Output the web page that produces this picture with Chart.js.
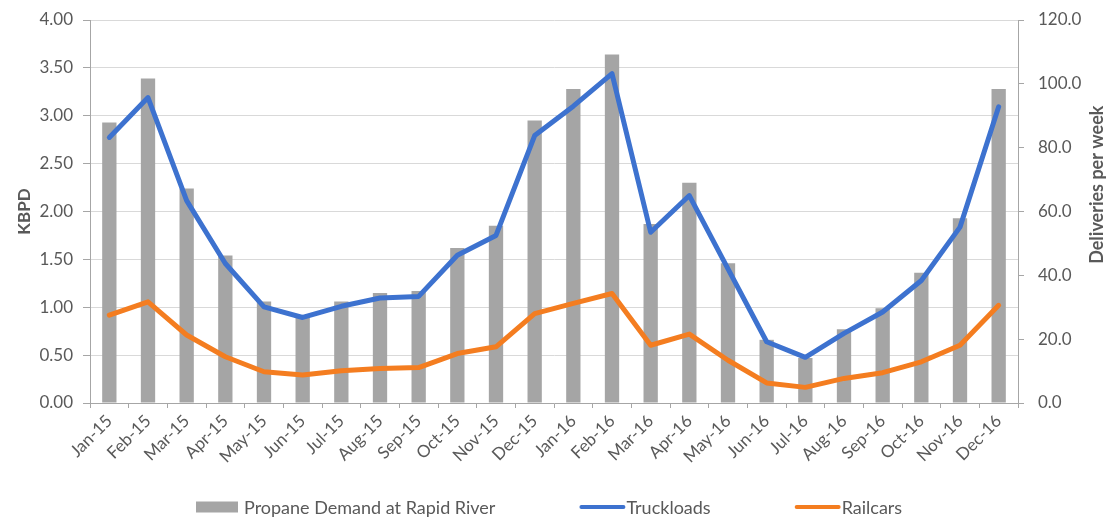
<!DOCTYPE html>
<html>
<head>
<meta charset="utf-8">
<script src="https://cdn.jsdelivr.net/npm/chart.js@4.4.1/dist/chart.umd.min.js"></script>
<style>
  html, body { margin: 0; padding: 0; background: #ffffff; overflow: hidden; }
  #wrap { width: 1109px; height: 519px; position: relative; }
</style>
</head>
<body>
<div id="wrap"><canvas id="chart" width="1109" height="519"></canvas></div>
<script>
// Monthly categories
const months = [
  'Jan-15','Feb-15','Mar-15','Apr-15','May-15','Jun-15','Jul-15','Aug-15','Sep-15','Oct-15','Nov-15','Dec-15',
  'Jan-16','Feb-16','Mar-16','Apr-16','May-16','Jun-16','Jul-16','Aug-16','Sep-16','Oct-16','Nov-16','Dec-16'
];

// Propane demand (KBPD, left axis)
const demandKbpd = [
  2.93, 3.39, 2.24, 1.54, 1.06, 0.90, 1.06, 1.15, 1.17, 1.62, 1.85, 2.95,
  3.28, 3.64, 1.87, 2.30, 1.46, 0.66, 0.47, 0.77, 0.99, 1.36, 1.93, 3.28
];

// Deliveries per week (right axis)
const truckloads = [
  83.2, 95.7, 63.4, 43.7, 30.1, 26.8, 30.3, 32.9, 33.4, 46.3, 52.5, 83.8,
  93.0, 103.2, 53.5, 65.0, 42.0, 19.2, 14.3, 21.8, 28.5, 38.4, 55.1, 92.8
];
const railcars = [
  27.5, 31.7, 21.3, 14.5, 9.8, 8.8, 10.1, 10.8, 11.1, 15.5, 17.6, 28.0,
  31.2, 34.3, 18.1, 21.6, 13.4, 6.3, 4.9, 7.7, 9.5, 12.9, 18.1, 30.6
];

// Axis ranges, tick steps and titles
const kbpdRange = [0, 4];
const kbpdStep = 0.5;
const deliveryRange = [0, 120];
const deliveryStep = 20;
const leftTitle = 'KBPD';
const rightTitle = 'Deliveries per week';

const FONT = "Lato, 'Open Sans', 'Liberation Sans', sans-serif";
const TEXT = '#595959';
const AXIS = '#a6a6a6';
const GRID = '#d9d9d9';
const GRAY = '#a5a5a5';
const BLUE = '#3d72cf';
const ORANGE = '#f47d20';

// Legend drawn in a single row below the rotated month labels
const legendRow = {
  id: 'legendRow',
  afterDraw(chart) {
    const ctx = chart.ctx;
    const y = 507;
    let x = 196;
    ctx.save();
    ctx.font = '18px ' + FONT;
    ctx.textBaseline = 'middle';
    chart.data.datasets.forEach((ds) => {
      if (ds.type === 'bar') {
        ctx.fillStyle = ds.backgroundColor;
        ctx.fillRect(x, y - 5.5, 42, 11);
        x += 48;
      } else {
        ctx.strokeStyle = ds.borderColor;
        ctx.lineWidth = 4;
        ctx.lineCap = 'round';
        ctx.beginPath();
        ctx.moveTo(x + 2, y);
        ctx.lineTo(x + 44, y);
        ctx.stroke();
        x += 47;
      }
      ctx.fillStyle = TEXT;
      ctx.fillText(ds.label, x, y + 1);
      x += ctx.measureText(ds.label).width + 84;
    });
    ctx.restore();
  }
};

// Right-hand axis title, reading bottom to top like the left one
const rightAxisTitle = {
  id: 'rightAxisTitle',
  afterDraw(chart) {
    const ctx = chart.ctx;
    const s = chart.scales.y1;
    ctx.save();
    ctx.translate(s.right - 12, s.top + (s.bottom - s.top) * 0.43);
    ctx.rotate(-Math.PI / 2);
    ctx.font = 'bold 18px ' + FONT;
    ctx.fillStyle = TEXT;
    ctx.textAlign = 'center';
    ctx.textBaseline = 'middle';
    ctx.fillText(rightTitle, 0, 0);
    ctx.restore();
  }
};

// Vertical axes: fixed width, no extra room reserved above/below for end labels
const fixVertical = (width) => (scale) => {
  scale.width = width;
  scale.paddingTop = 0;
  scale.paddingBottom = 0;
};

new Chart(document.getElementById('chart'), {
  data: {
    labels: months,
    datasets: [
      {
        type: 'bar',
        label: 'Propane Demand at Rapid River',
        data: demandKbpd,
        yAxisID: 'y',
        backgroundColor: GRAY,
        borderWidth: 0,
        barPercentage: 0.37,
        categoryPercentage: 1,
        order: 3
      },
      {
        type: 'line',
        label: 'Truckloads',
        data: truckloads,
        yAxisID: 'y1',
        borderColor: BLUE,
        backgroundColor: BLUE,
        borderWidth: 5,
        pointRadius: 0,
        tension: 0,
        borderJoinStyle: 'round',
        borderCapStyle: 'round',
        order: 1
      },
      {
        type: 'line',
        label: 'Railcars',
        data: railcars,
        yAxisID: 'y1',
        borderColor: ORANGE,
        backgroundColor: ORANGE,
        borderWidth: 5,
        pointRadius: 0,
        tension: 0,
        borderJoinStyle: 'round',
        borderCapStyle: 'round',
        order: 2
      }
    ]
  },
  options: {
    responsive: false,
    animation: false,
    devicePixelRatio: 1,
    layout: { padding: { top: 20, left: 0, right: 0, bottom: 0 } },
    plugins: {
      legend: { display: false },
      tooltip: { enabled: false }
    },
    scales: {
      x: {
        offset: true,
        grid: { offset: true, drawOnChartArea: false, drawTicks: true, tickLength: 5, color: AXIS },
        border: { color: AXIS, width: 1 },
        ticks: {
          minRotation: 45,
          maxRotation: 45,
          autoSkip: false,
          padding: 3,
          color: TEXT,
          font: { family: FONT, size: 17 }
        },
        afterFit(scale) { scale.height = 116; }
      },
      y: {
        position: 'left',
        min: kbpdRange[0],
        max: kbpdRange[1],
        grid: { color: GRID, tickColor: AXIS, tickLength: 7 },
        border: { color: AXIS, width: 1 },
        ticks: {
          stepSize: kbpdStep,
          padding: 10,
          color: TEXT,
          font: { family: FONT, size: 17 },
          callback: (v) => Number(v).toFixed(2)
        },
        title: {
          display: true,
          text: leftTitle,
          color: TEXT,
          font: { family: FONT, size: 17, weight: 'bold' },
          padding: { top: 14, bottom: 0 }
        },
        afterFit: fixVertical(90)
      },
      y1: {
        position: 'right',
        min: deliveryRange[0],
        max: deliveryRange[1],
        grid: { drawOnChartArea: false, color: AXIS, tickLength: 6 },
        border: { color: AXIS, width: 1 },
        ticks: {
          stepSize: deliveryStep,
          padding: 14,
          color: TEXT,
          font: { family: FONT, size: 17 },
          callback: (v) => Number(v).toFixed(1)
        },
        title: { display: false },
        afterFit: fixVertical(91)
      }
    }
  },
  plugins: [legendRow, rightAxisTitle]
});
</script>
</body>
</html>
